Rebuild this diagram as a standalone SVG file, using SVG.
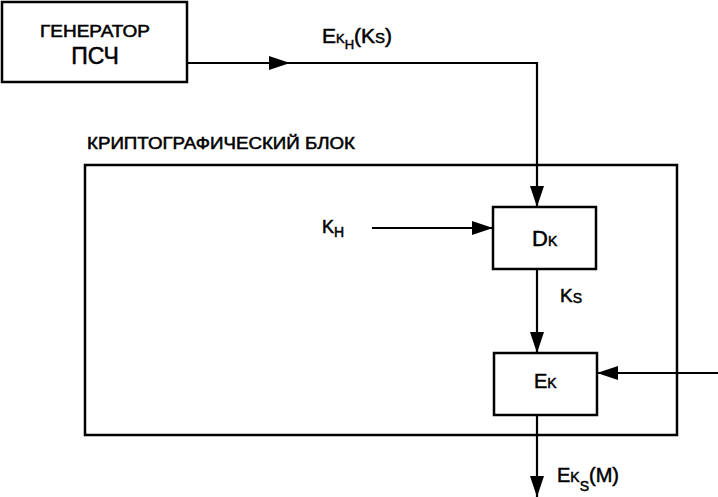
<svg xmlns="http://www.w3.org/2000/svg" width="718" height="497" viewBox="0 0 718 497">
<style>
.box{fill:#fff;stroke:#000;stroke-width:2.5}
.ln{fill:none;stroke:#000;stroke-width:2.2}
text{font-family:"Liberation Sans",Arial,sans-serif;fill:#000;stroke:#000;stroke-width:0.5}
</style>
<defs>
<marker id="ah" viewBox="0 0 21 14" refX="21" refY="7" markerWidth="21" markerHeight="14" markerUnits="userSpaceOnUse" orient="auto">
<path d="M0,0 L21,7 L0,14 z" fill="#000"/>
</marker>
</defs>
<rect width="718" height="497" fill="#fff"/>
<g id="crypto-block">
<rect x="85" y="165" width="592" height="270" class="box" stroke-width="2"/>
<text x="87" y="149" font-size="16" textLength="268" lengthAdjust="spacingAndGlyphs">КРИПТОГРАФИЧЕСКИЙ БЛОК</text>
</g>
<g id="generator">
<rect x="2" y="2" width="185" height="80" class="box"/>
<text x="95" y="37" font-size="16" text-anchor="middle" textLength="110" lengthAdjust="spacingAndGlyphs">ГЕНЕРАТОР</text>
<text x="95" y="64" font-size="23" text-anchor="middle">ПСЧ</text>
</g>
<g id="connectors">
<path d="M187,63 H290" class="ln" marker-end="url(#ah)"/>
<path d="M288,63 H537 V207" class="ln" marker-end="url(#ah)"/>
<path d="M372,228 H493" class="ln" marker-end="url(#ah)"/>
<path d="M537,269 V353" class="ln" marker-end="url(#ah)"/>
<path d="M718,373 H597" class="ln" marker-end="url(#ah)"/>
<path d="M537,415 V497" class="ln" marker-end="url(#ah)"/>
</g>
<g id="dk">
<rect x="493" y="207" width="103" height="62" class="box"/>
<text x="532" y="246" font-size="22">D<tspan font-size="14">K</tspan></text>
</g>
<g id="ek">
<rect x="494" y="353" width="103" height="62" class="box"/>
<text x="534" y="388" font-size="20">E<tspan font-size="14">K</tspan></text>
</g>
<g id="labels">
<text x="322" y="43" font-size="21">E<tspan font-size="13">K</tspan><tspan font-size="13" dy="6">H</tspan><tspan dy="-6">(K</tspan><tspan font-size="15">S</tspan>)</text>
<text x="322" y="233" font-size="18">K<tspan font-size="14" dy="4">H</tspan></text>
<text x="560" y="302" font-size="19">K<tspan font-size="14" dy="1">S</tspan></text>
<text x="557" y="482" font-size="20">E<tspan font-size="14">K</tspan><tspan font-size="14" dy="9">S</tspan><tspan dy="-9">(M)</tspan></text>
</g>
</svg>
